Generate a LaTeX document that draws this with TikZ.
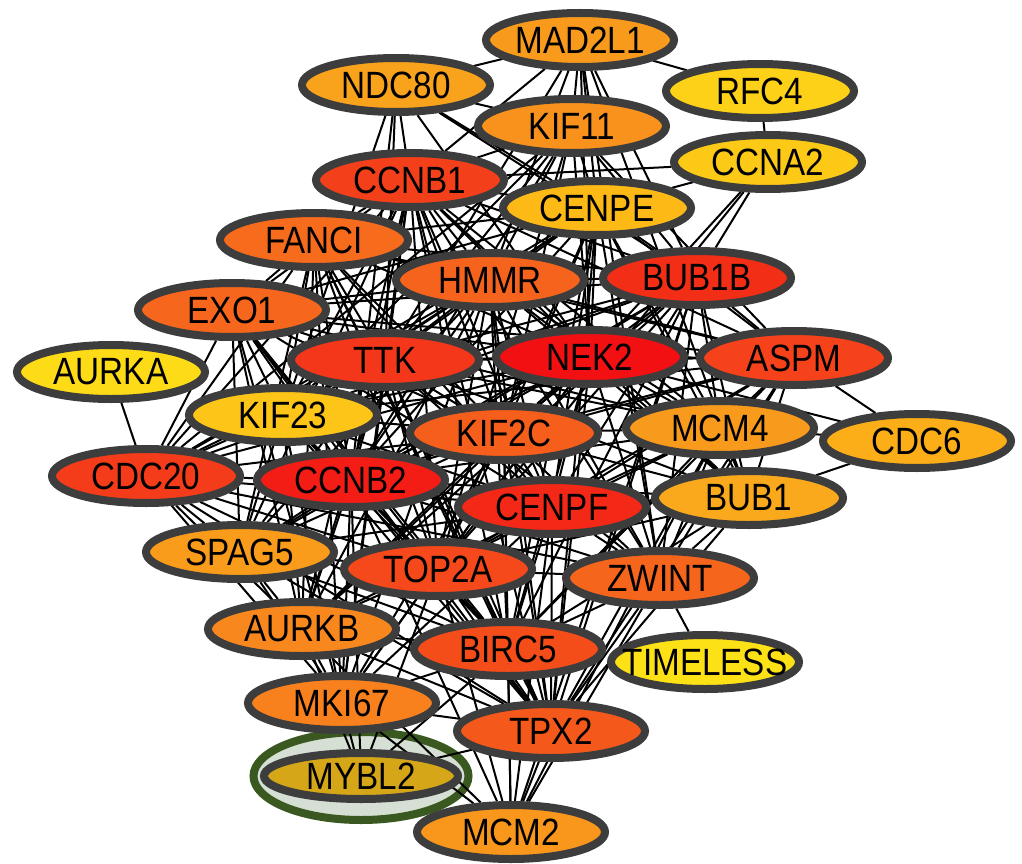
\documentclass[tikz,border=0pt]{standalone}
\usepackage{fontspec}
\setmainfont{Liberation Sans}
\usetikzlibrary{shapes.geometric}
\pgfdeclarelayer{halo}
\pgfdeclarelayer{links}
\pgfsetlayers{halo,links,main}

\definecolor{rim}{HTML}{3D3D3D}
\definecolor{haloring}{HTML}{3A5920}
\definecolor{halofill}{HTML}{D5DFD3}
\definecolor{cMADtwoLone}{HTML}{F89B1C}
\definecolor{cNDC}{HTML}{F9A21B}
\definecolor{cRFC}{HTML}{FDD117}
\definecolor{cKIFeleven}{HTML}{F8921D}
\definecolor{cCCNA}{HTML}{FCC917}
\definecolor{cCCNBone}{HTML}{F4401A}
\definecolor{cCENPE}{HTML}{FDBA17}
\definecolor{cFANCI}{HTML}{F76B1C}
\definecolor{cHMMR}{HTML}{F6631C}
\definecolor{cBUBoneB}{HTML}{F32E17}
\definecolor{cEXO}{HTML}{F6661C}
\definecolor{cAURKA}{HTML}{FDDC17}
\definecolor{cTTK}{HTML}{F4361A}
\definecolor{cNEK}{HTML}{F31013}
\definecolor{cASPM}{HTML}{F5421A}
\definecolor{cKIFtwentythree}{HTML}{FCC517}
\definecolor{cKIFtwoC}{HTML}{F65E1C}
\definecolor{cMCMfour}{HTML}{F89A1C}
\definecolor{cCDCsix}{HTML}{FBAE18}
\definecolor{cCDCtwenty}{HTML}{F43C1A}
\definecolor{cCCNBtwo}{HTML}{F31D15}
\definecolor{cCENPF}{HTML}{F32817}
\definecolor{cBUBone}{HTML}{F9A91B}
\definecolor{cSPAG}{HTML}{F99C1C}
\definecolor{cTOP}{HTML}{F5481B}
\definecolor{cZWINT}{HTML}{F6651C}
\definecolor{cAURKB}{HTML}{F8881E}
\definecolor{cBIRC}{HTML}{F54D1A}
\definecolor{cTIMELESS}{HTML}{FDE117}
\definecolor{cMKI}{HTML}{F8801D}
\definecolor{cTPX}{HTML}{F5581B}
\definecolor{cMYBL}{HTML}{D5A718}
\definecolor{cMCMtwo}{HTML}{F8971C}

% gene label: fixed-size ellipse, text may overflow the rim
\newcommand{\gname}[1]{\makebox[0pt]{\scalebox{0.875}[1]{#1}}}

\tikzset{
  gene/.style={ellipse, draw=rim, line width=8pt, minimum width=188pt,
    minimum height=54pt, inner sep=0pt, text=black,
    font=\fontsize{38}{40}\selectfont},
  link/.style={line width=2pt, black}
}

\begin{document}
\begin{tikzpicture}[x=1pt,y=-1pt]
\useasboundingbox (0,0) rectangle (1022,864);

\node[gene, fill=cMADtwoLone] (MAD2L1) at (580,40) {\gname{MAD2L1}};
\node[gene, fill=cNDC] (NDC80) at (396,85) {\gname{NDC80}};
\node[gene, fill=cRFC] (RFC4) at (760,91) {\gname{RFC4}};
\node[gene, fill=cKIFeleven] (KIF11) at (572,126) {\gname{KIF11}};
\node[gene, fill=cCCNA] (CCNA2) at (768,162) {\gname{CCNA2}};
\node[gene, fill=cCCNBone] (CCNB1) at (410,180) {\gname{CCNB1}};
\node[gene, fill=cCENPE] (CENPE) at (597,208) {\gname{CENPE}};
\node[gene, fill=cFANCI] (FANCI) at (314,240) {\gname{FANCI}};
\node[gene, fill=cHMMR] (HMMR) at (490,280) {\gname{HMMR}};
\node[gene, fill=cBUBoneB] (BUB1B) at (697,278) {\gname{BUB1B}};
\node[gene, fill=cEXO] (EXO1) at (232,310) {\gname{EXO1}};
\node[gene, fill=cAURKA] (AURKA) at (111,372) {\gname{AURKA}};
\node[gene, fill=cTTK] (TTK) at (385,360) {\gname{TTK}};
\node[gene, fill=cNEK] (NEK2) at (590,357) {\gname{NEK2}};
\node[gene, fill=cASPM] (ASPM) at (794,358) {\gname{ASPM}};
\node[gene, fill=cKIFtwentythree] (KIF23) at (283,415) {\gname{KIF23}};
\node[gene, fill=cKIFtwoC] (KIF2C) at (504,433) {\gname{KIF2C}};
\node[gene, fill=cMCMfour] (MCM4) at (720,428) {\gname{MCM4}};
\node[gene, fill=cCDCsix] (CDC6) at (917,441) {\gname{CDC6}};
\node[gene, fill=cCDCtwenty] (CDC20) at (146,476) {\gname{CDC20}};
\node[gene, fill=cCCNBtwo] (CCNB2) at (351,480) {\gname{CCNB2}};
\node[gene, fill=cBUBone] (BUB1) at (749,498) {\gname{BUB1}};
\node[gene, fill=cCENPF] (CENPF) at (552,507) {\gname{CENPF}};
\node[gene, fill=cSPAG] (SPAG5) at (240,552) {\gname{SPAG5}};
\node[gene, fill=cTOP] (TOP2A) at (438,569) {\gname{TOP2A}};
\node[gene, fill=cZWINT] (ZWINT) at (660,578) {\gname{ZWINT}};
\node[gene, fill=cAURKB] (AURKB) at (302,629) {\gname{AURKB}};
\node[gene, fill=cBIRC] (BIRC5) at (508,649) {\gname{BIRC5}};
\node[gene, fill=cTIMELESS] (TIMELESS) at (705,662) {\gname{TIMELESS}};
\node[gene, fill=cMKI] (MKI67) at (342,703) {\gname{MKI67}};
\node[gene, fill=cTPX] (TPX2) at (551,731) {\gname{TPX2}};
\node[gene, fill=cMYBL, minimum width=194pt, minimum height=46pt] (MYBL2) at (361,776) {\gname{MYBL2}};
\node[gene, fill=cMCMtwo] (MCM2) at (511,832) {\gname{MCM2}};

% selection halo around MYBL2
\begin{pgfonlayer}{halo}
  \draw[haloring, fill=halofill, line width=8pt] (MYBL2.center) ellipse [x radius=107.5, y radius=44];
\end{pgfonlayer}

% interaction edges
\begin{pgfonlayer}{links}
\foreach \s/\tl in {
  MAD2L1/{NDC80,RFC4,CCNB1,KIF11,CENPE,HMMR,BUB1B,TTK,NEK2,ZWINT,BUB1},
  NDC80/{KIF11,CCNB1,TTK,CCNB2,CENPE,BUB1B,NEK2,KIF23},
  RFC4/{CCNA2},
  CCNA2/{TOP2A,CENPE,BUB1B,NEK2,CCNB1},
  KIF11/{KIF2C,CCNB2,CDC20,TOP2A,KIF23,CCNB1,CENPE,HMMR,TTK,NEK2,BUB1B,ASPM},
  CCNB1/{FANCI,HMMR,BUB1B,EXO1,TTK,NEK2,ASPM,KIF23,KIF2C,MCM4,CDC20,CCNB2,CENPF,BUB1,SPAG5,TOP2A,ZWINT,AURKB,BIRC5,MKI67,TPX2,CENPE},
  CENPE/{HMMR,BUB1B,TTK,NEK2,ASPM,KIF23,KIF2C,MCM4,CDC20,CCNB2,CENPF,BUB1,TOP2A,ZWINT,BIRC5,TPX2,FANCI,EXO1},
  FANCI/{HMMR,EXO1,TTK,NEK2,KIF23,KIF2C,CDC20,CCNB2,CENPF,SPAG5,TOP2A,AURKB,BIRC5,MKI67,TPX2,BUB1B,ASPM},
  HMMR/{BUB1B,EXO1,TTK,NEK2,ASPM,KIF23,KIF2C,MCM4,CDC20,CCNB2,CENPF,BUB1,SPAG5,TOP2A,ZWINT,AURKB,BIRC5,MKI67,TPX2},
  BUB1B/{EXO1,TTK,NEK2,ASPM,KIF23,KIF2C,MCM4,CDC20,CCNB2,CENPF,BUB1,SPAG5,TOP2A,ZWINT,AURKB,BIRC5,TPX2,MCM2},
  EXO1/{TTK,NEK2,ASPM,KIF23,KIF2C,CDC20,CCNB2,CENPF,SPAG5,TOP2A,AURKB,BIRC5,MKI67,TPX2,MCM4},
  TTK/{NEK2,ASPM,KIF23,KIF2C,MCM4,CDC20,CCNB2,CENPF,BUB1,SPAG5,TOP2A,ZWINT,AURKB,BIRC5,MKI67,TPX2},
  NEK2/{ASPM,KIF23,KIF2C,MCM4,CDC20,CCNB2,CENPF,BUB1,SPAG5,TOP2A,ZWINT,AURKB,BIRC5,MKI67,TPX2,CDC6},
  ASPM/{KIF23,KIF2C,MCM4,CCNB2,CENPF,BUB1,TOP2A,ZWINT,BIRC5,TPX2,CDC6},
  KIF23/{KIF2C,CDC20,CCNB2,CENPF,SPAG5,TOP2A,AURKB,BIRC5,MKI67,TPX2},
  KIF2C/{MCM4,CDC20,CCNB2,CENPF,BUB1,SPAG5,TOP2A,ZWINT,AURKB,BIRC5,MKI67,TPX2,MCM2},
  MCM4/{CCNB2,CENPF,BUB1,TOP2A,ZWINT,BIRC5,TPX2,CDC6,MCM2},
  CDC20/{AURKA,CCNB2,CENPF,SPAG5,TOP2A,AURKB,BIRC5,MKI67,TPX2,ZWINT},
  CCNB2/{CENPF,BUB1,SPAG5,TOP2A,ZWINT,AURKB,BIRC5,MKI67,TPX2,MYBL2,MCM2},
  CENPF/{BUB1,SPAG5,TOP2A,ZWINT,AURKB,BIRC5,MKI67,TPX2,MCM2},
  BUB1/{TOP2A,ZWINT,BIRC5,TPX2,CDC6},
  SPAG5/{TOP2A,AURKB,BIRC5,MKI67,TPX2},
  TOP2A/{ZWINT,AURKB,BIRC5,MKI67,TPX2,MYBL2,MCM2},
  ZWINT/{BIRC5,TPX2,TIMELESS,MCM2},
  AURKB/{BIRC5,MKI67,TPX2,MYBL2,MCM2},
  BIRC5/{MKI67,TPX2,MYBL2,MCM2},
  MKI67/{TPX2,MYBL2,MCM2},
  TPX2/{MYBL2,MCM2}}
{
  \foreach \t in \tl { \draw[link] (\s) -- (\t); }
}
\end{pgfonlayer}
\end{tikzpicture}
\end{document}
